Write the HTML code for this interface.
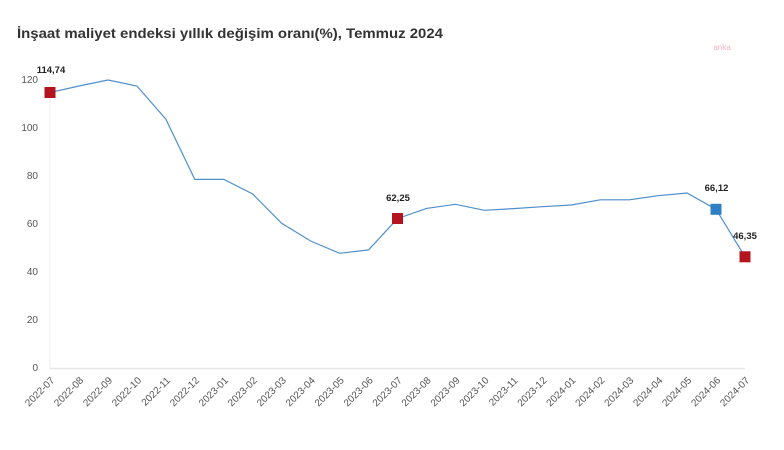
<!DOCTYPE html>
<html><head><meta charset="utf-8"><style>
html,body{margin:0;padding:0;background:#fff;}
svg{display:block;}
text{font-family:"Liberation Sans",Arial,sans-serif;}
</style></head><body>
<svg width="784" height="450" viewBox="0 0 784 450" xmlns="http://www.w3.org/2000/svg">
<rect width="784" height="450" fill="#fff"/>
<text x="17" y="38" font-size="14" font-weight="bold" fill="#333" textLength="426" lengthAdjust="spacingAndGlyphs">İnşaat maliyet endeksi yıllık değişim oranı(%), Temmuz 2024</text>
<text x="722" y="50" font-size="8" fill="#f3b5be" text-anchor="middle">anka</text>
<line x1="50" y1="72" x2="50" y2="368" stroke="#eeeeee" stroke-width="1"/>
<line x1="50" y1="368.5" x2="745" y2="368.5" stroke="#e6e6e6" stroke-width="1.5"/>
<g font-size="10" fill="#555" text-anchor="end">
<text x="38" y="83">120</text>
<text x="38" y="131">100</text>
<text x="38" y="179">80</text>
<text x="38" y="227">60</text>
<text x="38" y="275">40</text>
<text x="38" y="323">20</text>
<text x="38" y="371">0</text>
</g>
<polyline fill="none" stroke="#4f8fcc" stroke-width="1.2" points="50,92.6 78.96,86 107.92,80 136.88,86 165.83,119.1 194.79,179.4 223.75,179.4 252.71,194 281.67,223.3 310.63,241 339.58,253.3 368.54,249.9 397.5,218.6 426.46,208.4 455.42,204.3 484.38,210.3 513.33,208.6 542.29,206.7 571.25,205 600.21,199.8 629.17,199.8 658.13,195.7 687.08,193 716.04,209.3 745,256.8"/>
<rect x="44.5" y="87" width="11" height="11" fill="#b3141d"/>
<rect x="392" y="213" width="11" height="11" fill="#b3141d"/>
<rect x="710.5" y="203.8" width="11" height="11" fill="#2f80c3"/>
<rect x="739.5" y="251.3" width="11" height="11" fill="#b3141d"/>
<g font-size="9.5" font-weight="bold" fill="#222" text-anchor="middle">
<text x="51" y="73">114,74</text>
<text x="398" y="201">62,25</text>
<text x="716.5" y="191">66,12</text>
<text x="745" y="239">46,35</text>
</g>
<g font-size="10" fill="#555" text-anchor="end">
<text transform="translate(55,381) rotate(-45)">2022-07</text>
<text transform="translate(83.96,381) rotate(-45)">2022-08</text>
<text transform="translate(112.92,381) rotate(-45)">2022-09</text>
<text transform="translate(141.88,381) rotate(-45)">2022-10</text>
<text transform="translate(170.83,381) rotate(-45)">2022-11</text>
<text transform="translate(199.79,381) rotate(-45)">2022-12</text>
<text transform="translate(228.75,381) rotate(-45)">2023-01</text>
<text transform="translate(257.71,381) rotate(-45)">2023-02</text>
<text transform="translate(286.67,381) rotate(-45)">2023-03</text>
<text transform="translate(315.63,381) rotate(-45)">2023-04</text>
<text transform="translate(344.58,381) rotate(-45)">2023-05</text>
<text transform="translate(373.54,381) rotate(-45)">2023-06</text>
<text transform="translate(402.5,381) rotate(-45)">2023-07</text>
<text transform="translate(431.46,381) rotate(-45)">2023-08</text>
<text transform="translate(460.42,381) rotate(-45)">2023-09</text>
<text transform="translate(489.38,381) rotate(-45)">2023-10</text>
<text transform="translate(518.33,381) rotate(-45)">2023-11</text>
<text transform="translate(547.29,381) rotate(-45)">2023-12</text>
<text transform="translate(576.25,381) rotate(-45)">2024-01</text>
<text transform="translate(605.21,381) rotate(-45)">2024-02</text>
<text transform="translate(634.17,381) rotate(-45)">2024-03</text>
<text transform="translate(663.13,381) rotate(-45)">2024-04</text>
<text transform="translate(692.08,381) rotate(-45)">2024-05</text>
<text transform="translate(721.04,381) rotate(-45)">2024-06</text>
<text transform="translate(750,381) rotate(-45)">2024-07</text>
</g>
</svg>
</body></html>
